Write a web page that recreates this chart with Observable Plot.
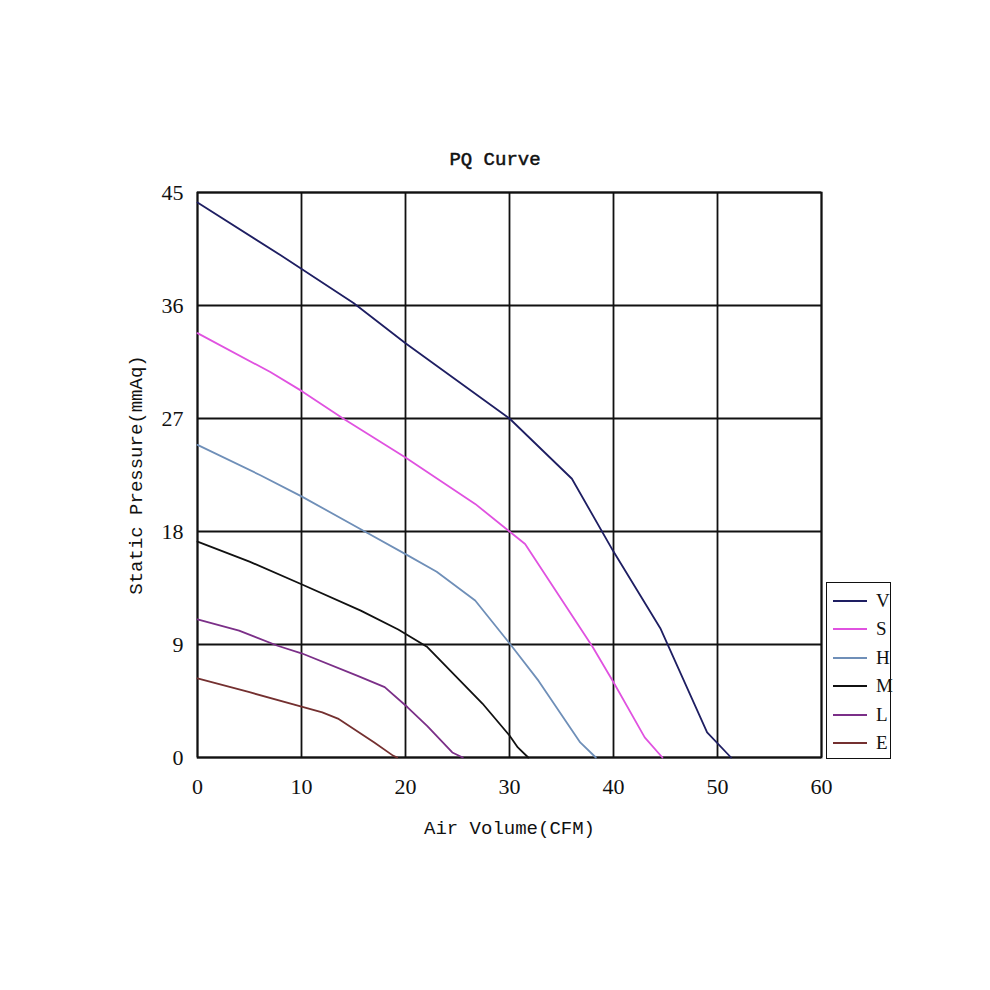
<!DOCTYPE html>
<html>
<head>
<meta charset="utf-8">
<script src="https://cdn.jsdelivr.net/npm/d3@7"></script>
<script src="https://cdn.jsdelivr.net/npm/@observablehq/plot@0.6"></script>
<style>
  html, body { margin: 0; padding: 0; background: #fff; }
  #wrap { position: relative; width: 990px; height: 990px; }
  #title { position: absolute; left: 0; width: 990px; top: 149px; text-align: center;
           font-family: "Liberation Mono", monospace; font-size: 19px; font-weight: normal; color: #111;
           -webkit-text-stroke: 0.5px #111; }
  #legend { position: absolute; left: 826px; top: 582px; width: 65px; height: 177px;
            border: 1.5px solid #111; background: #fff; box-sizing: border-box; }
  .item { position: absolute; left: 6px; height: 20px; display: flex; align-items: center; }
  .item .sw { width: 34px; height: 0; border-top: 2px solid; }
  .item .lb { margin-left: 9px; font-family: "Liberation Serif", serif; font-size: 19px; color: #111; }
</style>
</head>
<body>
<div id="wrap">
  <div id="title">PQ Curve</div>
  <div id="chart"></div>
  <div id="legend"></div>
</div>
<script>
// Series names and colours
const seriesNames = ["V", "S", "H", "M", "L", "E"];
const seriesColors = ["#1e1e62", "#e052e0", "#6f8fb8", "#111111", "#7b2f88", "#743030"];

// Air volume (CFM) / static pressure (mmAq) for each curve
const V_cfm = [0, 8, 15, 20, 30, 36, 40, 44.5, 49, 51.3];
const V_p   = [44.2, 40, 36.2, 33, 27, 22.2, 16.4, 10.3, 2, 0];

const S_cfm = [0, 7, 10, 14, 20, 26.7, 30, 31.5, 38, 40, 43, 44.7];
const S_p   = [33.8, 30.7, 29.2, 27, 23.9, 20.2, 18, 17, 8.8, 6, 1.6, 0];

const H_cfm = [0, 6, 10, 16.3, 20, 23, 26.7, 30, 32.8, 36.8, 38.3];
const H_p   = [24.9, 22.5, 20.8, 17.9, 16.2, 14.8, 12.5, 9.1, 6.1, 1.2, 0];

const M_cfm = [0, 5, 10, 15.7, 19.3, 22.1, 27.4, 30, 30.8, 31.8];
const M_p   = [17.2, 15.6, 13.8, 11.7, 10.2, 8.8, 4.3, 1.75, 0.8, 0];

const L_cfm = [0, 4, 7.7, 10, 15.4, 18, 20.2, 22.1, 24.5, 25.5];
const L_p   = [11, 10.1, 8.9, 8.3, 6.5, 5.6, 4, 2.5, 0.4, 0];

const E_cfm = [0, 5, 10, 12, 13.5, 17, 18.8, 19.2];
const E_p   = [6.3, 5.2, 4.05, 3.6, 3.1, 1.2, 0.15, 0];

// Axis ticks
const xTicks = [0, 10, 20, 30, 40, 50, 60];
const yTicks = [0, 9, 18, 27, 36, 45];

const seriesData = [
  [V_cfm, V_p], [S_cfm, S_p], [H_cfm, H_p], [M_cfm, M_p], [L_cfm, L_p], [E_cfm, E_p]
];
const rows = [];
seriesData.forEach(([xs, ys], i) => {
  xs.forEach((x, j) => rows.push({series: seriesNames[i], cfm: x, p: ys[j]}));
});

const chart = Plot.plot({
  width: 990,
  height: 990,
  marginLeft: 197,
  marginRight: 169,
  marginTop: 192,
  marginBottom: 233,
  style: {fontFamily: "Liberation Serif, serif", fontSize: "22px", color: "#111", background: "#fff"},
  x: {domain: [0, 60], ticks: xTicks},
  y: {domain: [0, 45], ticks: yTicks},
  color: {domain: seriesNames, range: seriesColors},
  marks: [
    Plot.gridX(xTicks, {stroke: "#111", strokeOpacity: 1, strokeWidth: 1.8}),
    Plot.gridY(yTicks, {stroke: "#111", strokeOpacity: 1, strokeWidth: 1.8}),
    Plot.frame({stroke: "#111", strokeWidth: 1.8}),
    Plot.axisX(xTicks, {tickSize: 0, tickPadding: 21, fontSize: 22,
      label: "Air Volume(CFM)", labelAnchor: "center", labelArrow: "none", labelOffset: 76}),
    Plot.axisY(yTicks, {tickSize: 0, tickPadding: 14, fontSize: 22,
      label: "Static Pressure(mmAq)", labelAnchor: "center", labelArrow: "none", labelOffset: 69}),
    Plot.line(rows, {x: "cfm", y: "p", z: "series", stroke: "series", strokeWidth: 1.8})
  ]
});
document.getElementById("chart").appendChild(chart);

// Style the axis labels in monospace like the original
chart.querySelectorAll("[aria-label='x-axis label'] text, [aria-label='y-axis label'] text").forEach(t => {
  t.setAttribute("font-family", "Liberation Mono, monospace");
  t.setAttribute("font-size", "19");
});

// Legend
const legend = document.getElementById("legend");
seriesNames.forEach((name, i) => {
  const it = document.createElement("div");
  it.className = "item";
  it.style.top = (8 + i * 28.4) + "px";
  const sw = document.createElement("div");
  sw.className = "sw";
  sw.style.borderTopColor = seriesColors[i];
  const lb = document.createElement("span");
  lb.className = "lb";
  lb.textContent = name;
  it.appendChild(sw);
  it.appendChild(lb);
  legend.appendChild(it);
});
</script>
</body>
</html>
